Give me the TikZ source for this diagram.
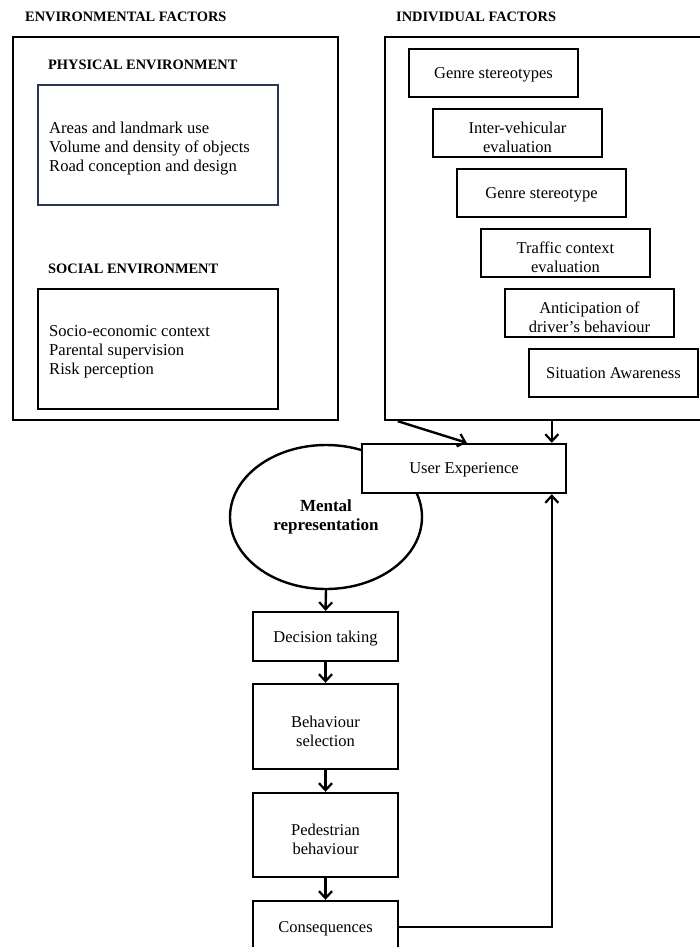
\documentclass[tikz,border=0pt]{standalone}
\usepackage{fontspec}
\setmainfont{Liberation Serif}
\usetikzlibrary{arrows.meta,shapes.geometric,calc}
\newcommand{\mytopstrut}{\rule{0pt}{20pt}}
\begin{document}
\begin{tikzpicture}[x=1pt,y=-1pt,
  frame/.style={draw,line width=2.4pt,inner sep=0pt},
  box/.style={draw,line width=2.4pt,fill=white,inner sep=0pt,align=center,
    text depth=-1.5pt,font=\fontsize{16.5}{19}\selectfont},
  ibox/.style={box,minimum width=169pt,minimum height=48pt},
  fbox/.style={box,minimum width=145pt},
  title/.style={font=\fontsize{14.4}{16}\selectfont\bfseries,anchor=west,inner sep=0pt},
  list/.style={font=\fontsize{16.6}{19}\selectfont,align=left,anchor=west,inner sep=0pt},
  arr/.style={line width=2.4pt,-{Straight Barb[length=7pt,width=13pt,line width=2.2pt]}}
]
\useasboundingbox (0,0) rectangle (700,947);
\clip (0,0) rectangle (700,947);
\fill[white] (0,0) rectangle (700,947);

% titles
\node[title] (envt) at (25,17) {ENVIRONMENTAL FACTORS};
\node[title] (indt) at (396,17) {INDIVIDUAL FACTORS};

% environmental frame
\node[frame,minimum width=325pt,minimum height=383pt] (env) at (175.5,228.5) {};
\node[title] (phyt) at (48,65) {PHYSICAL ENVIRONMENT};
\node[frame,draw={rgb,255:red,45;green,55;blue,85},minimum width=240pt,minimum height=120pt] (phy) at (158,145) {};
\node[list] (phyl) at (49,149) {Areas and landmark use\\Volume and density of objects\\Road conception and design};
\node[title] (soct) at (48,269) {SOCIAL ENVIRONMENT};
\node[frame,minimum width=240pt,minimum height=120pt] (soc) at (158,349) {};
\node[list] (socl) at (49,352) {Socio-economic context\\Parental supervision\\Risk perception};

% individual frame
\node[frame,minimum width=330pt,minimum height=383pt] (ind) at (550,228.5) {};
\node[ibox] (i1) at (493.5,73) {Genre stereotypes};
\node[ibox] (i2) at (517.5,133) {\mytopstrut Inter-vehicular\\evaluation};
\node[ibox] (i3) at (541.5,193) {Genre stereotype};
\node[ibox] (i4) at (565.5,253) {\mytopstrut Traffic context\\evaluation};
\node[ibox] (i5) at (589.5,313) {\mytopstrut Anticipation of\\driver's behaviour};
\node[ibox] (i6) at (613.5,373) {Situation Awareness};

% mental representation and user experience
\node[ellipse,draw,line width=2.4pt,minimum width=192pt,minimum height=144pt,inner sep=0pt,
  align=center,font=\fontsize{17}{19}\selectfont\bfseries] (mr) at (326,517) {Mental\\representation};
\node[box,minimum width=204pt,minimum height=49pt] (ux) at (464,468.5) {User Experience};

% flow boxes
\node[fbox,minimum height=49pt] (dec) at (325.5,636.5) {Decision taking};
\node[fbox,minimum height=85pt] (beh) at (325.5,726.5) {\mytopstrut Behaviour\\selection};
\node[fbox,minimum height=84pt] (ped) at (325.5,835) {\mytopstrut Pedestrian\\behaviour};
\node[fbox,minimum height=52pt] (con) at (325.5,927) {Consequences};

% connectors
\draw[arr] ($(ind.south west)+(14,0)$) -- ($(ux.north west)+(106,0)$);
\draw[arr] ($(ind.south west)+(168,0)$) -- ($(ux.north west)+(191,0)$);
\draw[arr] (mr.south) -- (dec.north);
\draw[arr] (dec.south) -- (beh.north);
\draw[arr] (beh.south) -- (ped.north);
\draw[arr] (ped.south) -- (con.north);
\draw[arr] (con.east) -| ($(ux.south west)+(191,0)$);
\end{tikzpicture}
\end{document}
